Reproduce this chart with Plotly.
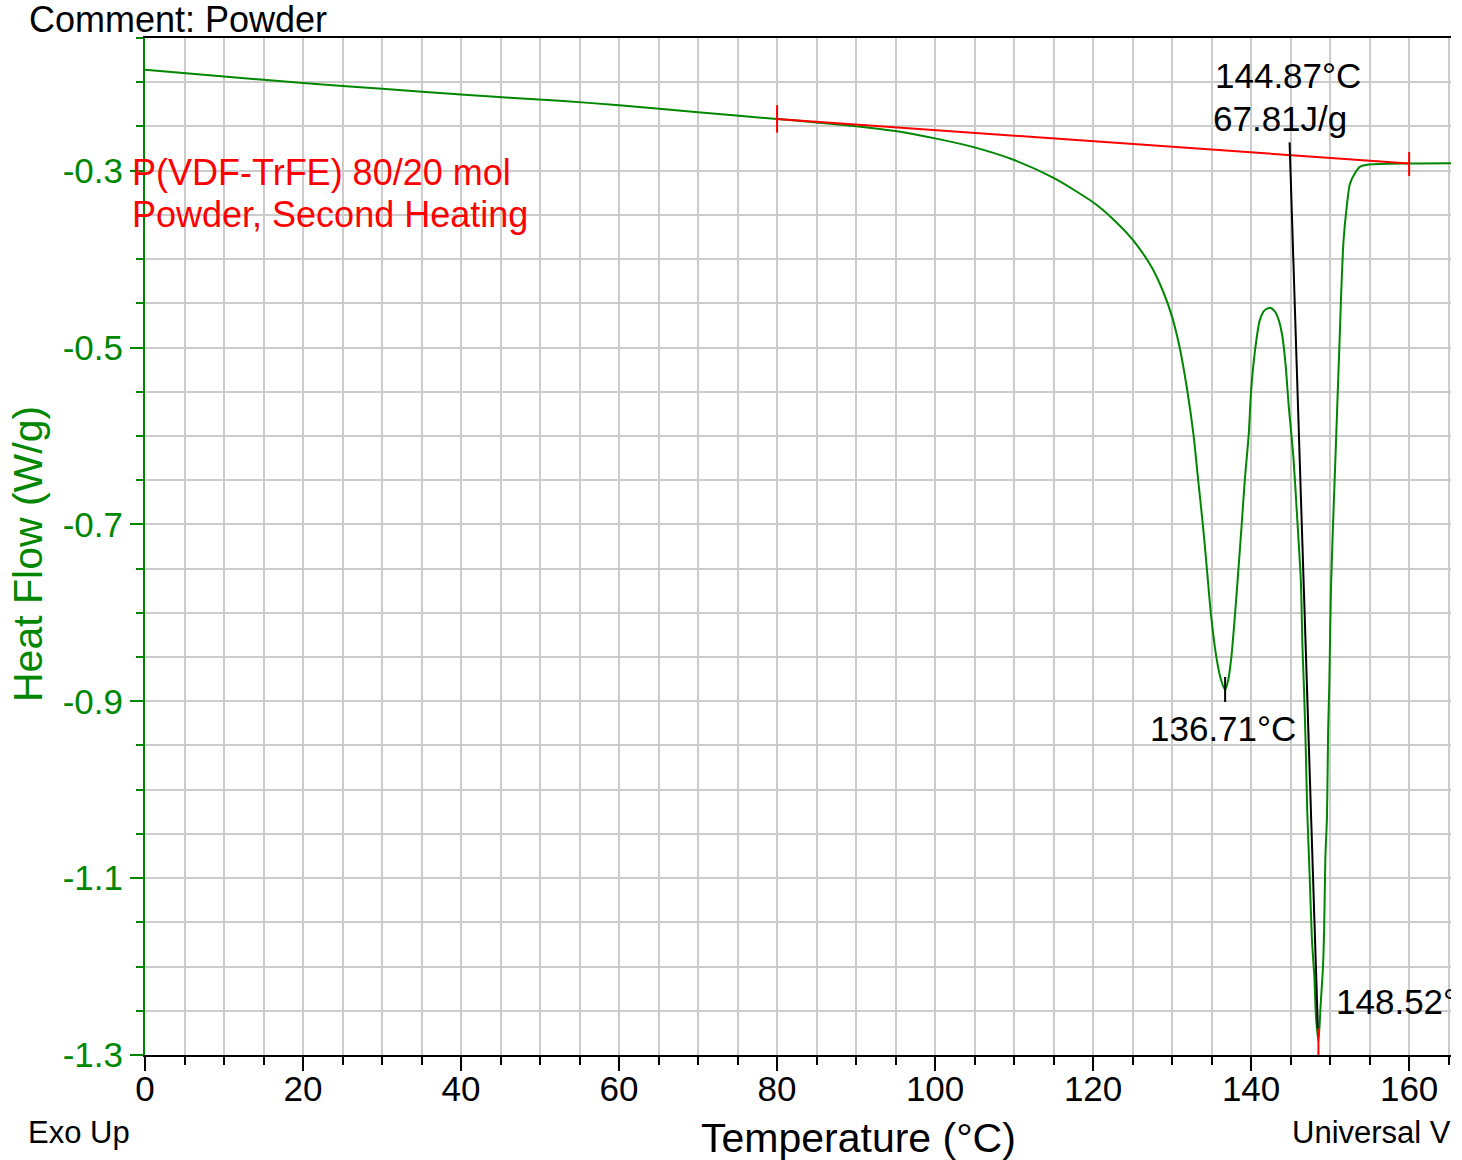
import plotly.graph_objects as go

# ---- data ----
temperature = [0, 10, 20, 30, 40, 52.5, 60, 70, 80, 85, 90, 93, 95, 100, 105, 110, 115, 120,
               122.5, 125, 127.4, 128.9, 129.9, 130.9, 131.9, 132.7, 133.3, 133.9, 134.4, 134.9,
               135.6, 136.2, 136.71, 137.1, 137.5, 137.97, 138.4, 138.8, 139.2, 139.7, 140.0,
               140.5, 141.1, 141.7, 142.4, 143.0, 143.5, 143.95, 144.35, 144.75, 145.35, 145.8,
               146.3, 146.5, 146.7, 146.9, 147.1, 147.4, 147.7, 148.0, 148.2, 148.52, 148.8,
               149.1, 149.25, 149.4, 149.6, 149.75, 149.9, 150.1, 150.3, 150.6, 150.9, 151.2,
               151.4, 151.7, 152.1, 152.5, 153.2, 153.8, 154.9, 160, 165.3]
heat_flow = [-0.186, -0.1935, -0.201, -0.2075, -0.214, -0.221, -0.226, -0.234, -0.2416, -0.2455,
             -0.2498, -0.2528, -0.2552, -0.2635, -0.2737, -0.288, -0.3083, -0.3358,
             -0.3546, -0.378, -0.409, -0.4375, -0.4625, -0.4975, -0.5475, -0.598, -0.65, -0.701,
             -0.75, -0.8, -0.85, -0.876, -0.887, -0.876, -0.85, -0.801, -0.75, -0.701, -0.65,
             -0.598, -0.549, -0.503, -0.469, -0.458, -0.455, -0.459, -0.469, -0.487, -0.518,
             -0.565, -0.624, -0.688, -0.765, -0.839, -0.888, -0.948, -1.023, -1.095, -1.17,
             -1.211, -1.255, -1.285, -1.243, -1.2, -1.155, -1.076, -1.031, -0.933, -0.88,
             -0.775, -0.718, -0.643, -0.567, -0.492, -0.439, -0.379, -0.341, -0.315, -0.302,
             -0.2955, -0.293, -0.2918, -0.2915]

baseline_t = [80, 160]
baseline_hf = [-0.2416, -0.2918]
baseline_marker_t = [80, 80, None, 160, 160]
baseline_marker_hf = [-0.226, -0.257, None, -0.279, -0.306]

drop_t = [144.87, 148.45]
drop_hf = [-0.268, -1.27]
peak_marker_t = [148.52, 148.52]
peak_marker_hf = [-1.27, -1.31]
peak1_marker_t = [136.71, 136.71]
peak1_marker_hf = [-0.8725, -0.9008]

x_tickvals = [0, 20, 40, 60, 80, 100, 120, 140, 160]
x_ticktext = ["0", "20", "40", "60", "80", "100", "120", "140", "160"]
y_tickvals = [-1.3, -1.1, -0.9, -0.7, -0.5, -0.3]
y_ticktext = ["-1.3", "-1.1", "-0.9", "-0.7", "-0.5", "-0.3"]

GREEN = "rgb(0,135,0)"
FONT = "Liberation Sans, Arial, sans-serif"

W, H = 1462, 1160
L, R, T, B = 145, 1451, 38, 1055


def px(xp):
    return (xp - L) / (R - L)


def py(yp):
    return (B - yp) / (B - T)


fig = go.Figure()
fig.add_trace(go.Scatter(x=temperature, y=heat_flow, mode="lines",
                         line=dict(color=GREEN, width=2, shape="spline", smoothing=0.7),
                         hoverinfo="skip"))
fig.add_trace(go.Scatter(x=baseline_t, y=baseline_hf, mode="lines",
                         line=dict(color="red", width=2), hoverinfo="skip"))
fig.add_trace(go.Scatter(x=baseline_marker_t, y=baseline_marker_hf, mode="lines",
                         line=dict(color="red", width=2), hoverinfo="skip"))
fig.add_trace(go.Scatter(x=drop_t, y=drop_hf, mode="lines",
                         line=dict(color="black", width=2), hoverinfo="skip"))
fig.add_trace(go.Scatter(x=peak1_marker_t, y=peak1_marker_hf, mode="lines",
                         line=dict(color="black", width=2), hoverinfo="skip"))
fig.add_trace(go.Scatter(x=peak_marker_t, y=peak_marker_hf, mode="lines",
                         line=dict(color="red", width=2), hoverinfo="skip"))
fig.add_trace(go.Scatter(x=[150.75], y=[-1.2435], mode="text", text=["148.52°C"],
                         textposition="middle right",
                         textfont=dict(family=FONT, size=35, color="black"),
                         cliponaxis=True, hoverinfo="skip"))

fig.update_layout(
    width=W, height=H,
    margin=dict(l=L, r=W - R, t=T, b=H - B, pad=0),
    paper_bgcolor="white", plot_bgcolor="white",
    showlegend=False,
    font=dict(family=FONT, size=35, color="black"),
    xaxis=dict(
        range=[0, 165.3], tickmode="array", tickvals=x_tickvals, ticktext=x_ticktext,
        ticks="outside", ticklen=14, tickwidth=2, tickcolor="black",
        ticklabelstandoff=-12,
        tickfont=dict(family=FONT, size=35, color="black"),
        showline=True, linecolor="black", linewidth=2, mirror=True,
        showgrid=True, gridcolor="#cccccc", gridwidth=2, zeroline=False,
        minor=dict(tickmode="linear", tick0=0, dtick=5, ticks="outside", ticklen=8,
                   tickwidth=2, tickcolor="black", showgrid=True,
                   gridcolor="#cccccc", gridwidth=2),
    ),
    yaxis=dict(
        range=[-1.3, -0.15], tickmode="array", tickvals=y_tickvals, ticktext=y_ticktext,
        ticks="outside", ticklen=13, tickwidth=2, tickcolor=GREEN,
        ticklabelstandoff=0,
        tickfont=dict(family=FONT, size=35, color=GREEN),
        showline=True, linecolor=GREEN, linewidth=2,
        showgrid=True, gridcolor="#cccccc", gridwidth=2, zeroline=False,
        minor=dict(tickmode="linear", tick0=-1.3, dtick=0.05, ticks="outside", ticklen=7,
                   tickwidth=2, tickcolor=GREEN, showgrid=True,
                   gridcolor="#cccccc", gridwidth=2),
    ),
)

annots = [
    dict(text="Comment: Powder", x=px(27), y=py(20), xanchor="left", yanchor="middle",
         font=dict(size=36, color="black")),
    dict(text="P(VDF-TrFE) 80/20 mol", x=px(130), y=py(172), xanchor="left", yanchor="middle",
         font=dict(size=36, color="red")),
    dict(text="Powder, Second Heating", x=px(130), y=py(214), xanchor="left", yanchor="middle",
         font=dict(size=36, color="red")),
    dict(text="144.87°C", x=px(1213), y=py(75), xanchor="left", yanchor="middle",
         font=dict(size=35, color="black")),
    dict(text="67.81J/g", x=px(1211), y=py(118), xanchor="left", yanchor="middle",
         font=dict(size=35, color="black")),
    dict(text="136.71°C", x=px(1148), y=py(728), xanchor="left", yanchor="middle",
         font=dict(size=35, color="black")),
    dict(text="Exo Up", x=px(26), y=py(1132), xanchor="left", yanchor="middle",
         font=dict(size=31, color="black")),
    dict(text="Universal V", x=px(1290), y=py(1132), xanchor="left", yanchor="middle",
         font=dict(size=31, color="black")),
    dict(text="Temperature (°C)", x=px(858), y=py(1138), xanchor="center", yanchor="middle",
         font=dict(size=41, color="black")),
    dict(text="Heat Flow (W/g)", x=px(28), y=py(554), xanchor="center", yanchor="middle",
         textangle=-90, font=dict(size=41, color=GREEN)),
]
for a in annots:
    a.update(xref="paper", yref="paper", showarrow=False)
    fig.add_annotation(**a)

fig.write_html("out.html")
